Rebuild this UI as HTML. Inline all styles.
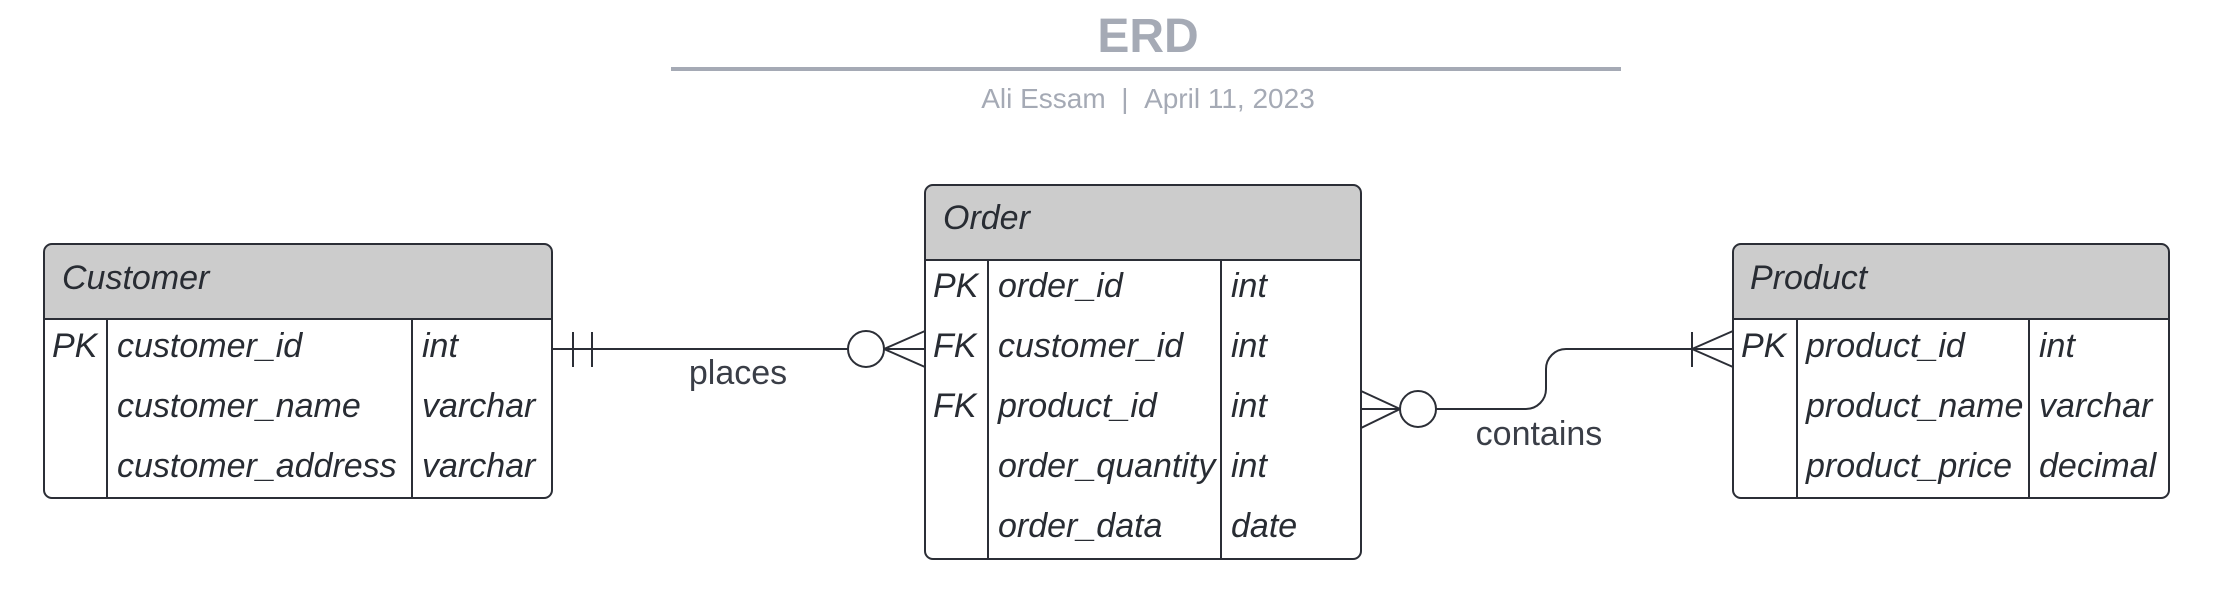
<!DOCTYPE html>
<html><head><meta charset="utf-8"><style>
body{margin:0;background:#fff;}
svg text{font-family:"Liberation Sans",sans-serif;white-space:pre;}
</style></head><body>
<svg width="2214" height="585" viewBox="0 0 2214 585" xmlns="http://www.w3.org/2000/svg">
<text x="1148" y="52" text-anchor="middle" font-size="48" font-weight="bold" fill="#a5aab5">ERD</text>
<rect x="671" y="67" width="950" height="4" fill="#a5aab5"/>
<text x="1148" y="108" text-anchor="middle" font-size="28" fill="#a5aab5">Ali Essam&#160;&#160;|&#160;&#160;April 11, 2023</text>

<g stroke="#2b2e36" stroke-width="2" fill="none">
<path d="M44,319 V252 a8,8 0 0 1 8,-8 H544 a8,8 0 0 1 8,8 V319 Z" fill="#cccccc"/>
<path d="M44,319 H552 V490 a8,8 0 0 1 -8,8 H52 a8,8 0 0 1 -8,-8 Z" fill="#fff"/>
<line x1="107" y1="319" x2="107" y2="498"/><line x1="412" y1="319" x2="412" y2="498"/>
<path d="M925,260 V193 a8,8 0 0 1 8,-8 H1353 a8,8 0 0 1 8,8 V260 Z" fill="#cccccc"/>
<path d="M925,260 H1361 V551 a8,8 0 0 1 -8,8 H933 a8,8 0 0 1 -8,-8 Z" fill="#fff"/>
<line x1="988" y1="260" x2="988" y2="559"/><line x1="1221" y1="260" x2="1221" y2="559"/>
<path d="M1733,319 V252 a8,8 0 0 1 8,-8 H2161 a8,8 0 0 1 8,8 V319 Z" fill="#cccccc"/>
<path d="M1733,319 H2169 V490 a8,8 0 0 1 -8,8 H1741 a8,8 0 0 1 -8,-8 Z" fill="#fff"/>
<line x1="1797" y1="319" x2="1797" y2="498"/><line x1="2029" y1="319" x2="2029" y2="498"/>

<line x1="552" y1="349" x2="848" y2="349"/>
<line x1="573" y1="332" x2="573" y2="367"/><line x1="592" y1="332" x2="592" y2="367"/>
<circle cx="866" cy="349" r="18" fill="#fff"/>
<line x1="884" y1="349" x2="925" y2="349"/>
<line x1="884" y1="349" x2="925" y2="331"/><line x1="884" y1="349" x2="925" y2="367"/>

<line x1="1361" y1="409" x2="1400" y2="409"/>
<line x1="1361" y1="391" x2="1400" y2="409"/><line x1="1361" y1="428" x2="1400" y2="409"/>
<circle cx="1418" cy="409" r="18" fill="#fff"/>
<path d="M1436,409 H1526 a20,20 0 0 0 20,-20 V369 a20,20 0 0 1 20,-20 H1733"/>
<line x1="1692" y1="332" x2="1692" y2="367"/>
<line x1="1692" y1="349" x2="1733" y2="331"/><line x1="1692" y1="349" x2="1733" y2="367"/>
</g>

<g font-size="34" fill="#282c33" font-style="italic">
<text x="62" y="289">Customer</text>
<text x="52" y="357">PK</text><text x="117" y="357">customer_id</text><text x="422" y="357">int</text>
<text x="117" y="417">customer_name</text><text x="422" y="417">varchar</text>
<text x="117" y="477">customer_address</text><text x="422" y="477">varchar</text>

<text x="943" y="229">Order</text>
<text x="933" y="297">PK</text><text x="998" y="297">order_id</text><text x="1231" y="297">int</text>
<text x="933" y="357">FK</text><text x="998" y="357">customer_id</text><text x="1231" y="357">int</text>
<text x="933" y="417">FK</text><text x="998" y="417">product_id</text><text x="1231" y="417">int</text>
<text x="998" y="477">order_quantity</text><text x="1231" y="477">int</text>
<text x="998" y="537">order_data</text><text x="1231" y="537">date</text>

<text x="1750" y="289">Product</text>
<text x="1741" y="357">PK</text><text x="1806" y="357">product_id</text><text x="2039" y="357">int</text>
<text x="1806" y="417">product_name</text><text x="2039" y="417">varchar</text>
<text x="1806" y="477">product_price</text><text x="2039" y="477">decimal</text>
</g>
<g font-size="34" fill="#3a3e47" text-anchor="middle">
<text x="738" y="384">places</text>
<text x="1539" y="445">contains</text>
</g>
</svg>
</body></html>
